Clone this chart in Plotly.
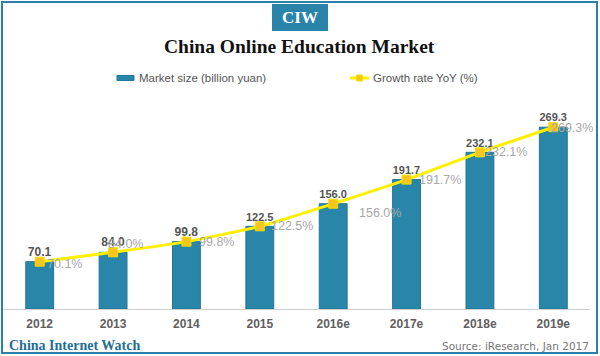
import plotly.graph_objects as go

years = ["2012", "2013", "2014", "2015", "2016e", "2017e", "2018e", "2019e"]
market_size = [70.1, 84.0, 99.8, 122.5, 156.0, 191.7, 232.1, 269.3]
growth_rate = [70.1, 84.0, 99.8, 122.5, 156.0, 191.7, 232.1, 269.3]
growth_labels = ["70.1%", "84.0%", "99.8%", "122.5%", "156.0%", "191.7%", "232.1%", "269.3%"]

W, H = 600, 356
ML, MR, MT, MB = 3, 10, 100, 47
PW, PH = W - ML - MR, H - MT - MB


def px(x):
    return (x - ML) / PW


def py(y):
    return (H - MB - y) / PH


BLUE = "#2986a9"
fig = go.Figure()
fig.add_trace(go.Bar(
    x=years, y=market_size, marker=dict(color=BLUE, line=dict(color="#23779a", width=1)),
    text=[f"<b>{v:.1f}</b>" for v in market_size], textposition="outside",
    textfont=dict(family="Liberation Sans", size=12, color="#555555"),
    cliponaxis=False, showlegend=False,
))
fig.add_trace(go.Scatter(
    x=years, y=growth_rate, mode="lines+markers",
    line=dict(color="#fff000", width=3, shape="spline", smoothing=0.6),
    marker=dict(symbol="square", size=9, color="#f7c51e", line=dict(color="#f2df00", width=1)),
    cliponaxis=False, showlegend=False,
))

# label offsets (pixel nudges) for the growth labels
label_dx = [5, -7, 11, 9, 24, 10, 3, -4]
label_dy = [-2, 8, 0, 0, -9, 0, 0, -1]
annotations = []
for i, (v, lab) in enumerate(zip(growth_rate, growth_labels)):
    annotations.append(dict(
        x=i, y=v, xref="x", yref="y", text=lab, showarrow=False,
        xanchor="left", yanchor="middle", xshift=label_dx[i], yshift=label_dy[i],
        font=dict(family="Liberation Sans", size=12.5, color="#a8a8a8"),
    ))

# titles / header / footer
annotations += [
    dict(x=px(300), y=py(17.5), xref="paper", yref="paper", text="<b>CIW</b>", showarrow=False,
         xanchor="center", yanchor="middle", font=dict(family="Liberation Serif", size=17, color="white")),
    dict(x=px(300), y=py(47), xref="paper", yref="paper", text="<b>China Online Education Market</b>",
         showarrow=False, xanchor="center", yanchor="middle",
         font=dict(family="Liberation Serif", size=19.5, color="#111111")),
    dict(x=px(137), y=py(78), xref="paper", yref="paper", text="Market size (billion yuan)",
         showarrow=False, xanchor="left", yanchor="middle",
         font=dict(family="Liberation Sans", size=11.5, color="#555555")),
    dict(x=px(371), y=py(78), xref="paper", yref="paper", text="Growth rate YoY (%)",
         showarrow=False, xanchor="left", yanchor="middle",
         font=dict(family="Liberation Sans", size=11.5, color="#555555")),
    dict(x=px(7), y=py(345), xref="paper", yref="paper", text="<b>China Internet Watch</b>",
         showarrow=False, xanchor="left", yanchor="middle",
         font=dict(family="Liberation Serif", size=14, color="#1f6e98")),
    dict(x=px(591), y=py(346), xref="paper", yref="paper", text="Source: iResearch, Jan 2017",
         showarrow=False, xanchor="right", yanchor="middle",
         font=dict(family="DejaVu Sans", size=10.5, color="#777777")),
]

shapes = [
    dict(type="rect", xref="paper", yref="paper", x0=px(2), x1=px(597), y0=py(2), y1=py(353),
         line=dict(color="#2b7fa8", width=2), fillcolor="rgba(0,0,0,0)", layer="above"),
    dict(type="rect", xref="paper", yref="paper", x0=px(272), x1=px(328), y0=py(4), y1=py(31),
         line=dict(width=0), fillcolor="#2a84aa", layer="below"),
    dict(type="rect", xref="paper", yref="paper", x0=px(117), x1=px(134), y0=py(75.5), y1=py(80.5),
         line=dict(color="#23779a", width=1), fillcolor=BLUE),
    dict(type="line", xref="paper", yref="paper", x0=px(350), x1=px(369), y0=py(78), y1=py(78),
         line=dict(color="#fff000", width=3)),
    dict(type="rect", xref="paper", yref="paper", x0=px(356.5), x1=px(362.5), y0=py(75), y1=py(81),
         line=dict(color="#f2df00", width=1), fillcolor="#f7c51e"),
]

fig.update_layout(
    width=W, height=H, margin=dict(l=ML, r=MR, t=MT, b=MB),
    paper_bgcolor="white", plot_bgcolor="white", bargap=0.62,
    annotations=annotations, shapes=shapes,
    xaxis=dict(type="category", range=[-0.5, 7.5], showline=True, linecolor="#d0d0d0", linewidth=1,
               showgrid=False, ticks="outside", ticklen=4, tickcolor="rgba(0,0,0,0)",
               tickprefix="<b>", ticksuffix="</b>",
               tickfont=dict(family="Liberation Sans", size=12, color="#606060"), fixedrange=True),
    yaxis=dict(range=[0, 309.6], visible=False, showgrid=False, fixedrange=True),
    font=dict(family="Liberation Sans"),
)

fig.write_html("out.html", config={"displayModeBar": False},
               post_script="document.body.style.margin='0';")
